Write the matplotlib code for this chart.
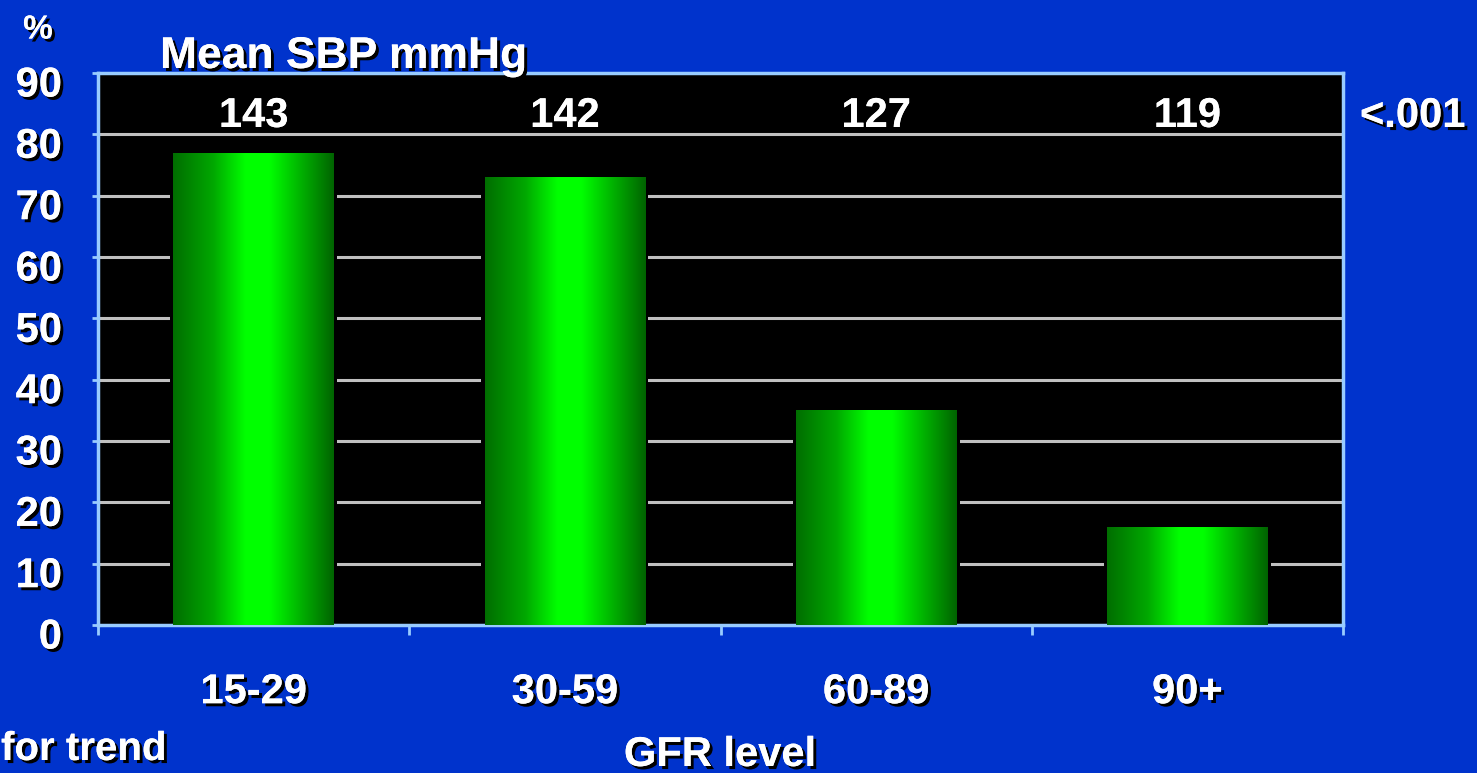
import matplotlib
matplotlib.use("Agg")
import matplotlib.pyplot as plt
import matplotlib.patheffects as pe
from matplotlib.colors import LinearSegmentedColormap
from matplotlib.transforms import ScaledTranslation
import numpy as np

# ==========================================================
# DATA
# ==========================================================

gfr_levels = ["15-29", "30-59", "60-89", "90+"]
percent_values = [77, 73, 35, 16]
mean_sbp = ["143", "142", "127", "119"]
y_ticks = [0, 10, 20, 30, 40, 50, 60, 70, 80, 90]

# ==========================================================
# STYLE
# ==========================================================

bg_blue = "#0033CC"
light_blue = "#99CCFF"
grid_grey = "#C0C0C0"
font = "Liberation Sans"

shadow = [pe.withSimplePatchShadow(offset=(2.2, -2.2),
                                   shadow_rgbFace="black", alpha=1.0),
          pe.Normal()]

green_cmap = LinearSegmentedColormap.from_list(
    "bar_green",
    [(0.0, "#006E00"), (0.25, "#00A800"), (0.45, "#00FF00"),
     (0.6, "#00FF00"), (0.8, "#00B000"), (1.0, "#006400")]
)

fig = plt.figure(figsize=(14.77, 7.73), dpi=100, facecolor=bg_blue)
ax = fig.add_axes([98 / 1477, 1 - 625 / 773,
                   (1343 - 98) / 1477, (625 - 73) / 773])
ax.set_facecolor("black")

x = np.arange(len(gfr_levels))
bar_width = 0.515
gap = 0.011

# ==========================================================
# GRID + BARS
# ==========================================================

for yv in y_ticks[1:-1]:
    ax.axhline(yv, color=grid_grey, linewidth=2.2, zorder=1)

# black halo behind each bar so gridlines stop short of the bars
ax.bar(x, percent_values, width=bar_width + 2 * gap,
       color="black", zorder=2)

bars = ax.bar(x, percent_values, width=bar_width,
              color="none", zorder=3)

gradient = np.linspace(0, 1, 256).reshape(1, -1)
for rect in bars:
    x0 = rect.get_x()
    w = rect.get_width()
    h = rect.get_height()
    im = ax.imshow(gradient, cmap=green_cmap, aspect="auto",
                   extent=[x0, x0 + w, 0, h], zorder=3,
                   interpolation="bilinear")
    im.set_clip_path(rect)

ax.set_xlim(-0.5, len(gfr_levels) - 0.5)
ax.set_ylim(0, 90)

# ==========================================================
# AXES / TICKS
# ==========================================================

for side in ["left", "right", "top", "bottom"]:
    ax.spines[side].set_color(light_blue)
    ax.spines[side].set_linewidth(2.5)

ax.set_xticks(np.arange(-0.5, len(gfr_levels), 1.0))
ax.set_xticklabels([])
ax.set_xticks(x, minor=True)
ax.set_xticklabels(gfr_levels, minor=True)
ax.tick_params(axis="x", which="major", direction="out", length=7,
               width=2, color=light_blue)
ax.tick_params(axis="x", which="minor", length=0, pad=34,
               labelsize=30, labelcolor="white")

ax.set_yticks(y_ticks)
ax.tick_params(axis="y", direction="out", length=4, width=2,
               color=light_blue, pad=22, labelsize=30,
               labelcolor="white")

for tl in ax.get_xticklabels(minor=True):
    tl.set_fontfamily(font)
    tl.set_fontweight("bold")
    tl.set_path_effects(shadow)

for tl in ax.get_yticklabels():
    tl.set_fontfamily(font)
    tl.set_fontweight("bold")
    tl.set_path_effects(shadow)
    tl.set_transform(tl.get_transform() +
                     ScaledTranslation(0, -0.08, fig.dpi_scale_trans))

# ==========================================================
# TEXT
# ==========================================================

for xi, label in zip(x, mean_sbp):
    ax.text(xi, 81.2, label, ha="center", va="baseline",
            color="white", fontsize=30, fontweight="bold",
            fontfamily=font, zorder=5, path_effects=shadow)

fig.text(38 / 1477, 1 - 30 / 773, "%", ha="center", va="center",
         color="white", fontsize=24, fontweight="bold",
         fontfamily=font, path_effects=shadow)

fig.text(160 / 1477, 1 - 68 / 773, "Mean SBP mmHg", ha="left",
         va="baseline", color="white", fontsize=32, fontweight="bold",
         fontfamily=font, path_effects=shadow, zorder=6)

fig.text(1360 / 1477, 1 - 127 / 773, "<.001", ha="left",
         va="baseline", color="white", fontsize=30, fontweight="bold",
         fontfamily=font, path_effects=shadow)

fig.text(1 / 1477, 1 - 760 / 773, "for trend", ha="left",
         va="baseline", color="white", fontsize=29, fontweight="bold",
         fontfamily=font, path_effects=shadow)

fig.text(720 / 1477, 1 - 766 / 773, "GFR level", ha="center",
         va="baseline", color="white", fontsize=30, fontweight="bold",
         fontfamily=font, path_effects=shadow)

fig.savefig("out.png", dpi=100, facecolor=bg_blue)
